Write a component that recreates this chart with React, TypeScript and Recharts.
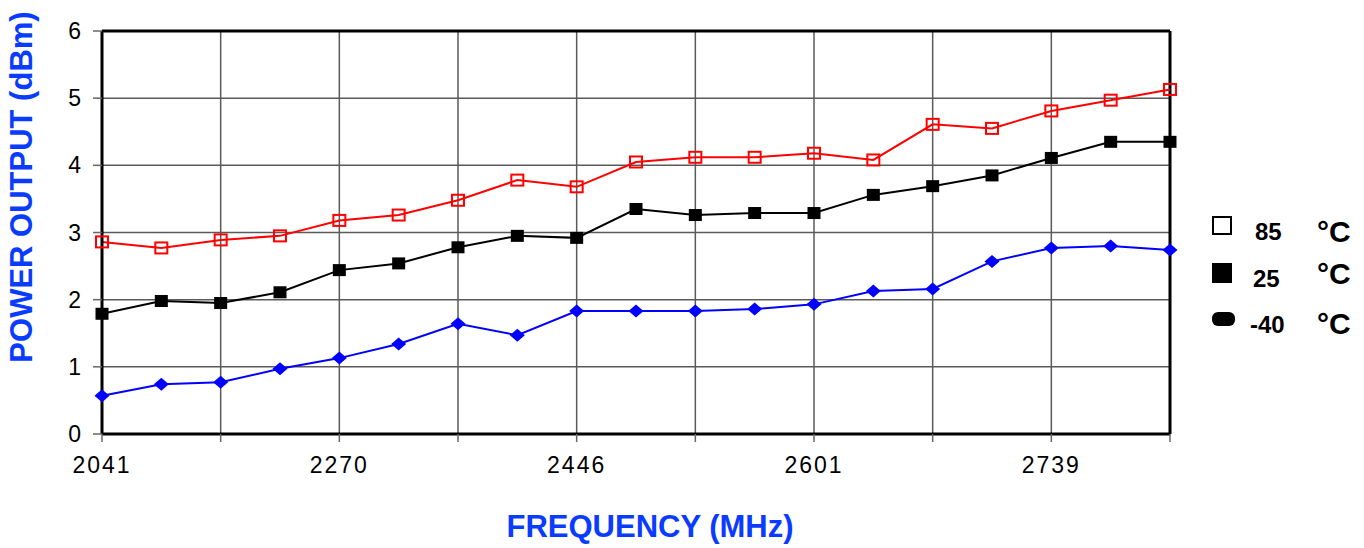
import React from 'react';
import { LineChart, Line, XAxis, YAxis, CartesianGrid, ReferenceLine, Legend } from 'recharts';

const frequencies = ['2041', '2098', '2155', '2212', '2270', '2314', '2358', '2402', '2446', '2485', '2524', '2562', '2601', '2636', '2670', '2705', '2739', '2774', '2808'];
const labeledFrequencies = ['2041', '2270', '2446', '2601', '2739'];
const temp85 = [2.86, 2.77, 2.89, 2.95, 3.18, 3.26, 3.48, 3.78, 3.68, 4.05, 4.12, 4.12, 4.18, 4.08, 4.61, 4.55, 4.81, 4.97, 5.13];
const temp25 = [1.79, 1.98, 1.95, 2.11, 2.44, 2.54, 2.78, 2.95, 2.92, 3.35, 3.26, 3.29, 3.29, 3.56, 3.69, 3.85, 4.11, 4.35, 4.35];
const tempM40 = [0.57, 0.74, 0.77, 0.97, 1.13, 1.34, 1.64, 1.47, 1.83, 1.83, 1.83, 1.86, 1.93, 2.13, 2.16, 2.57, 2.77, 2.80, 2.74];
const yTicks = [0, 1, 2, 3, 4, 5, 6];

const data = frequencies.map((f, i) => ({ freq: f, t85: temp85[i], t25: temp25[i], tm40: tempM40[i] }));

const FONT = '"Liberation Sans", Arial, sans-serif';

const OpenSquare = (props: any) => {
  const { cx, cy, index } = props;
  if (cx == null || cy == null) return null;
  return <rect key={`o${index}`} x={cx - 6} y={cy - 5.5} width={12} height={11} fill="none" stroke="#FF0000" strokeWidth={2} />;
};
const FilledSquare = (props: any) => {
  const { cx, cy, index } = props;
  if (cx == null || cy == null) return null;
  return <rect key={`f${index}`} x={cx - 6.5} y={cy - 6} width={13} height={12} fill="#000" />;
};
const Diamond = (props: any) => {
  const { cx, cy, index } = props;
  if (cx == null || cy == null) return null;
  return <polygon key={`d${index}`} points={`${cx},${cy - 6.5} ${cx + 7.5},${cy} ${cx},${cy + 6.5} ${cx - 7.5},${cy}`} fill="#0000FF" />;
};

const LegendContent = () => (
  <svg width={160} height={140} style={{ fontFamily: FONT, fontWeight: 'bold' }}>
    <rect x={8} y={12} width={18} height={17} fill="#fff" stroke="#000" strokeWidth={2} />
    <text x={50} y={35} fontSize={24}>85</text>
    <text x={112} y={37} fontSize={30}>°C</text>
    <rect x={7} y={58} width={20} height={20} fill="#000" />
    <text x={48} y={82} fontSize={24}>25</text>
    <text x={112} y={79} fontSize={30}>°C</text>
    <rect x={7} y={107} width={23} height={14} rx={6} ry={6} fill="#000" />
    <text x={45} y={128} fontSize={24}>-40</text>
    <text x={112} y={129} fontSize={30}>°C</text>
  </svg>
);

export default function App() {
  return (
    <div style={{ position: 'absolute', left: 0, top: 0, width: 1364, height: 548, background: '#fff', fontFamily: FONT }}>
      <LineChart width={1364} height={548} data={data} margin={{ top: 31, right: 194, bottom: 0, left: 22 }}>
        <CartesianGrid stroke="#5a5a5a" strokeWidth={1.5} />
        <XAxis
          dataKey="freq"
          type="category"
          interval={1}
          tickFormatter={(v: string) => (labeledFrequencies.includes(v) ? v : '')}
          tick={{ fill: '#000', fontSize: 23, fontFamily: FONT, letterSpacing: 2 }}
          tickSize={8}
          tickMargin={15}
          tickLine={{ stroke: '#666', strokeWidth: 1.5 }}
          axisLine={{ stroke: '#000', strokeWidth: 3 }}
          height={114}
        />
        <YAxis
          type="number"
          domain={[0, 6]}
          ticks={yTicks}
          interval={0}
          tick={{ fill: '#000', fontSize: 23, fontFamily: FONT }}
          tickSize={9}
          tickMargin={12}
          tickLine={{ stroke: '#666', strokeWidth: 1.5 }}
          axisLine={{ stroke: '#000', strokeWidth: 3 }}
          width={80}
        />
        <ReferenceLine y={6} stroke="#000" strokeWidth={3} />
        <ReferenceLine x={frequencies[frequencies.length - 1]} stroke="#000" strokeWidth={3} />
        <Legend
          layout="horizontal"
          verticalAlign="middle"
          align="center"
          content={() => <LegendContent />}
          wrapperStyle={{ position: 'absolute', left: 1205, top: 205, width: 160, height: 140 }}
        />
        <Line dataKey="t85" name="85 °C" stroke="#FF0000" strokeWidth={2} dot={OpenSquare} isAnimationActive={false} />
        <Line dataKey="t25" name="25 °C" stroke="#000000" strokeWidth={2} dot={FilledSquare} isAnimationActive={false} />
        <Line dataKey="tm40" name="-40 °C" stroke="#0000FF" strokeWidth={2} dot={Diamond} isAnimationActive={false} />
      </LineChart>
      <div style={{ position: 'absolute', left: 650, top: 509, transform: 'translateX(-50%)', color: '#0A3CFF', fontSize: 31, fontWeight: 'bold', whiteSpace: 'nowrap', lineHeight: '36px' }}>
        FREQUENCY (MHz)
      </div>
      <div style={{ position: 'absolute', left: 22, top: 187, transform: 'translate(-50%, -50%) rotate(-90deg)', color: '#0A3CFF', fontSize: 31, fontWeight: 'bold', whiteSpace: 'nowrap', lineHeight: '36px' }}>
        POWER OUTPUT (dBm)
      </div>
    </div>
  );
}
